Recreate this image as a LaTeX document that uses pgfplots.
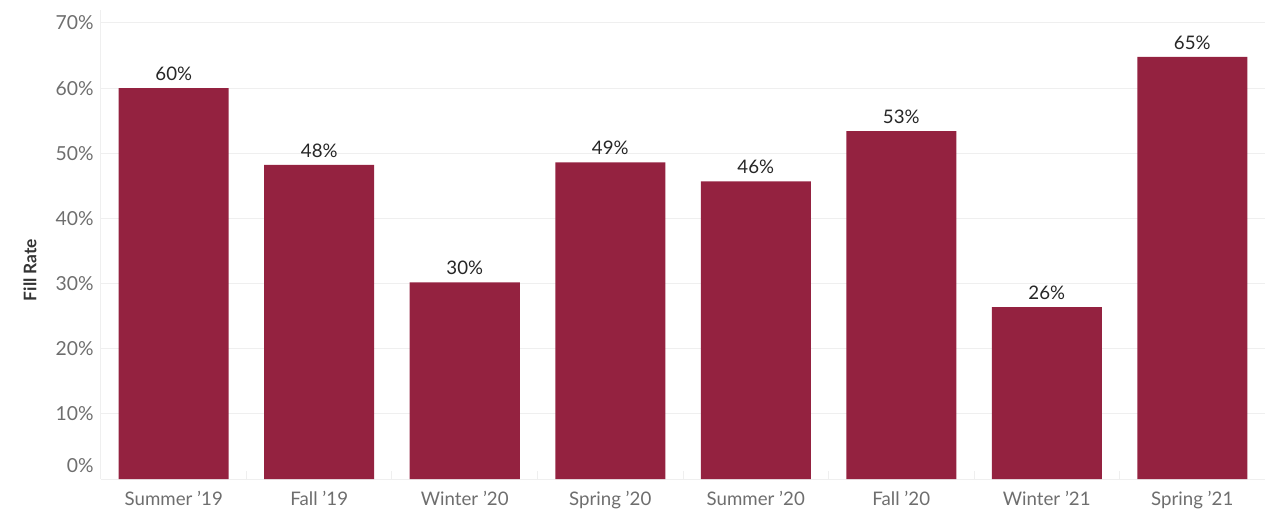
\documentclass[border=0pt]{standalone}
\usepackage{pgfplots}
\pgfplotsset{compat=1.18}
\usepackage{fontspec}
\setmainfont{Lato}
\definecolor{barc}{HTML}{942240}
\definecolor{tickc}{HTML}{6E6E6E}
\definecolor{gridc}{HTML}{EFEFEF}
\begin{document}
\begin{tikzpicture}[x=0.75pt,y=0.75pt]
\path[use as bounding box] (-101,-39) rectangle (1164,479);
\begin{axis}[
  at={(0,0)}, anchor=south west,
  scale only axis,
  width=873pt, height=351.8pt,
  xmin=-0.5, xmax=7.5,
  ymin=0, ymax=72,
  xtick={0,...,7},
  xticklabels={Summer ’19,Fall ’19,Winter ’20,Spring ’20,Summer ’20,Fall ’20,Winter ’21,Spring ’21},
  minor xtick={-0.5,0.5,...,7.5},
  ytick={10,20,...,70},
  extra y ticks={0},
  extra y tick style={yticklabel style={yshift=9.75pt}, grid=none},
  yticklabel={\pgfmathprintnumber{\tick}\%},
  /pgf/number format/assume math mode=true,
  ymajorgrids,
  major grid style={gridc, line width=0.75pt},
  minor tick length=6pt,
  major tick length=0pt,
  minor x tick style={draw=gridc, line width=0.75pt},
  xtick style={draw=none},
  ytick style={draw=none},
  axis x line*=bottom,
  axis y line*=left,
  axis line style={draw=gridc, line width=0.75pt, -},
  yticklabel style={font=\fontsize{14.5}{16}\selectfont, text=tickc, xshift=-2pt},
  xticklabel style={font=\fontsize{14}{16}\selectfont, text=tickc, yshift=-6pt},
  nodes near coords={\pgfmathprintnumber[fixed,precision=0]{\pgfplotspointmeta}\%},
  nodes near coords style={font=\fontsize{14}{16}\selectfont, text=black!85, yshift=2pt},
  clip=false,
]
\addplot[ybar, bar width=82.5pt, fill=barc, draw=none] coordinates {
(0,60.0) (1,48.2) (2,30.2) (3,48.6) (4,45.7) (5,53.4) (6,26.4) (7,64.8)
};
\end{axis}
\node[rotate=90, font=\fontsize{13}{15}\selectfont\bfseries, text=black!80] at (-71,209) {Fill Rate};
\end{tikzpicture}
\end{document}
